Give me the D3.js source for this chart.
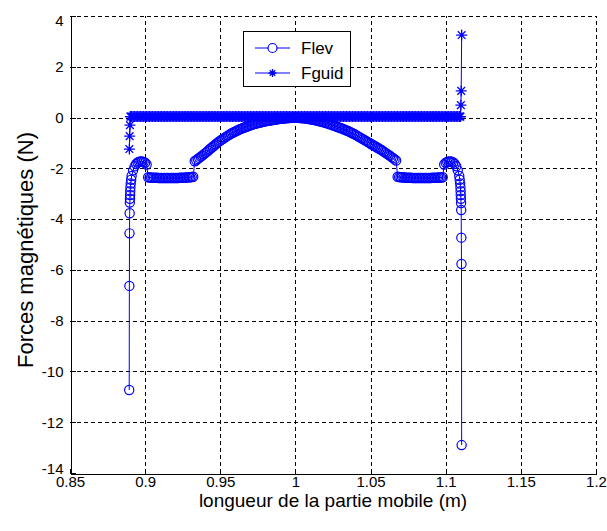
<!DOCTYPE html>
<html>
<head>
<meta charset="utf-8">
<script src="https://cdn.jsdelivr.net/npm/d3@7"></script>
<style>
    body { margin: 0; background: #ffffff; }
    svg { display: block; font-family: "Liberation Sans", Arial, sans-serif; }
</style>
</head>
<body>
<div id="chart"></div>
<script>
/*
    Forces magnetiques vs longueur de la partie mobile (Flev, Fguid)
 */

// tick labels
var xTicks = [0.85, 0.9, 0.95, 1, 1.05, 1.1, 1.15, 1.2];
var yTicks = [4, 2, 0, -2, -4, -6, -8, -10, -12, -14];

// shared x positions of the middle part (m)
var xMid = [
    0.891, 0.892, 0.893, 0.894, 0.895, 0.896, 0.897, 0.898, 0.899, 0.900,
    0.901, 0.902, 0.903, 0.904, 0.905, 0.906, 0.907, 0.908, 0.909, 0.910,
    0.911, 0.912, 0.913, 0.914, 0.915, 0.916, 0.917, 0.918, 0.919, 0.920,
    0.921, 0.922, 0.923, 0.924, 0.925, 0.926, 0.927, 0.928, 0.929, 0.930,
    0.931, 0.932, 0.933, 0.934, 0.935, 0.936, 0.937, 0.938, 0.939, 0.940,
    0.941, 0.942, 0.943, 0.944, 0.945, 0.946, 0.947, 0.948, 0.949, 0.950,
    0.951, 0.952, 0.953, 0.954, 0.955, 0.956, 0.957, 0.958, 0.959, 0.960,
    0.961, 0.962, 0.963, 0.964, 0.965, 0.966, 0.967, 0.968, 0.969, 0.970,
    0.971, 0.972, 0.973, 0.974, 0.975, 0.976, 0.977, 0.978, 0.979, 0.980,
    0.981, 0.982, 0.983, 0.984, 0.985, 0.986, 0.987, 0.988, 0.989, 0.990,
    0.991, 0.992, 0.993, 0.994, 0.995, 0.996, 0.997, 0.998, 0.999, 1.000,
    1.001, 1.002, 1.003, 1.004, 1.005, 1.006, 1.007, 1.008, 1.009, 1.010,
    1.011, 1.012, 1.013, 1.014, 1.015, 1.016, 1.017, 1.018, 1.019, 1.020,
    1.021, 1.022, 1.023, 1.024, 1.025, 1.026, 1.027, 1.028, 1.029, 1.030,
    1.031, 1.032, 1.033, 1.034, 1.035, 1.036, 1.037, 1.038, 1.039, 1.040,
    1.041, 1.042, 1.043, 1.044, 1.045, 1.046, 1.047, 1.048, 1.049, 1.050,
    1.051, 1.052, 1.053, 1.054, 1.055, 1.056, 1.057, 1.058, 1.059, 1.060,
    1.061, 1.062, 1.063, 1.064, 1.065, 1.066, 1.067, 1.068, 1.069, 1.070,
    1.071, 1.072, 1.073, 1.074, 1.075, 1.076, 1.077, 1.078, 1.079, 1.080,
    1.081, 1.082, 1.083, 1.084, 1.085, 1.086, 1.087, 1.088, 1.089, 1.090,
    1.091, 1.092, 1.093, 1.094, 1.095, 1.096, 1.097, 1.098, 1.099, 1.100,
    1.101, 1.102, 1.103, 1.104, 1.105, 1.106, 1.107, 1.108, 1.109
];

// Flev (N) on xMid
var flevMid = [
    -2.30, -2.08, -1.92, -1.83, -1.77, -1.74, -1.73, -1.73, -1.75, -1.78,
    -1.85, -2.35, -2.36, -2.36, -2.37, -2.37, -2.37, -2.37, -2.38, -2.38,
    -2.38, -2.38, -2.38, -2.38, -2.38, -2.38, -2.38, -2.38, -2.38, -2.38,
    -2.38, -2.38, -2.37, -2.37, -2.37, -2.37, -2.36, -2.36, -2.35, -2.35,
    -2.34, -2.33, -1.72, -1.68, -1.63, -1.59, -1.54, -1.50, -1.45, -1.40,
    -1.35, -1.30, -1.25, -1.20, -1.15, -1.10, -1.05, -1.00, -0.95, -0.91,
    -0.87, -0.83, -0.79, -0.75, -0.71, -0.68, -0.64, -0.61, -0.58, -0.55,
    -0.52, -0.49, -0.46, -0.44, -0.41, -0.39, -0.37, -0.35, -0.33, -0.31,
    -0.29, -0.27, -0.25, -0.24, -0.22, -0.21, -0.19, -0.18, -0.16, -0.15,
    -0.14, -0.13, -0.12, -0.11, -0.10, -0.09, -0.08, -0.07, -0.06, -0.05,
    -0.05, -0.04, -0.03, -0.03, -0.02, -0.02, -0.01, -0.01, -0.01, -0.01,
    -0.01, -0.01, -0.02, -0.02, -0.03, -0.03, -0.04, -0.05, -0.06, -0.07,
    -0.08, -0.09, -0.10, -0.12, -0.13, -0.15, -0.16, -0.18, -0.19, -0.21,
    -0.23, -0.25, -0.27, -0.29, -0.31, -0.33, -0.35, -0.37, -0.39, -0.41,
    -0.43, -0.46, -0.48, -0.51, -0.53, -0.56, -0.59, -0.62, -0.65, -0.68,
    -0.71, -0.75, -0.78, -0.82, -0.85, -0.89, -0.92, -0.96, -0.99, -1.03,
    -1.06, -1.10, -1.13, -1.17, -1.20, -1.24, -1.27, -1.31, -1.35, -1.39,
    -1.43, -1.47, -1.51, -1.56, -1.60, -1.65, -1.69, -2.33, -2.34, -2.35,
    -2.35, -2.36, -2.36, -2.37, -2.37, -2.37, -2.37, -2.38, -2.38, -2.38,
    -2.38, -2.38, -2.38, -2.38, -2.38, -2.38, -2.38, -2.38, -2.38, -2.38,
    -2.37, -2.37, -2.37, -2.37, -2.36, -2.36, -2.36, -2.35, -1.85, -1.78,
    -1.75, -1.73, -1.73, -1.74, -1.77, -1.83, -1.92, -2.08, -2.30
];

// Fguid (N) on xMid
var fguidMid = [
    0.04, 0.04, 0.04, 0.04, 0.04, 0.04, 0.04, 0.04, 0.04, 0.04,
    0.04, 0.04, 0.04, 0.04, 0.04, 0.04, 0.04, 0.04, 0.04, 0.04,
    0.04, 0.04, 0.04, 0.04, 0.04, 0.04, 0.04, 0.04, 0.04, 0.04,
    0.04, 0.04, 0.04, 0.04, 0.04, 0.04, 0.04, 0.04, 0.04, 0.04,
    0.04, 0.04, 0.04, 0.04, 0.04, 0.04, 0.04, 0.04, 0.04, 0.04,
    0.04, 0.04, 0.04, 0.04, 0.04, 0.04, 0.04, 0.04, 0.04, 0.04,
    0.04, 0.04, 0.04, 0.04, 0.04, 0.04, 0.04, 0.04, 0.04, 0.04,
    0.04, 0.04, 0.04, 0.04, 0.04, 0.04, 0.04, 0.04, 0.04, 0.04,
    0.04, 0.04, 0.04, 0.04, 0.04, 0.04, 0.04, 0.04, 0.04, 0.04,
    0.04, 0.04, 0.04, 0.04, 0.04, 0.04, 0.04, 0.04, 0.04, 0.04,
    0.04, 0.04, 0.04, 0.04, 0.04, 0.04, 0.04, 0.04, 0.04, 0.04,
    0.04, 0.04, 0.04, 0.04, 0.04, 0.04, 0.04, 0.04, 0.04, 0.04,
    0.04, 0.04, 0.04, 0.04, 0.04, 0.04, 0.04, 0.04, 0.04, 0.04,
    0.04, 0.04, 0.04, 0.04, 0.04, 0.04, 0.04, 0.04, 0.04, 0.04,
    0.04, 0.04, 0.04, 0.04, 0.04, 0.04, 0.04, 0.04, 0.04, 0.04,
    0.04, 0.04, 0.04, 0.04, 0.04, 0.04, 0.04, 0.04, 0.04, 0.04,
    0.04, 0.04, 0.04, 0.04, 0.04, 0.04, 0.04, 0.04, 0.04, 0.04,
    0.04, 0.04, 0.04, 0.04, 0.04, 0.04, 0.04, 0.04, 0.04, 0.04,
    0.04, 0.04, 0.04, 0.04, 0.04, 0.04, 0.04, 0.04, 0.04, 0.04,
    0.04, 0.04, 0.04, 0.04, 0.04, 0.04, 0.04, 0.04, 0.04, 0.04,
    0.04, 0.04, 0.04, 0.04, 0.04, 0.04, 0.04, 0.04, 0.04, 0.04,
    0.04, 0.04, 0.04, 0.04, 0.04, 0.04, 0.04, 0.04, 0.04
];

// end spikes
var flevLeftX = [0.8894, 0.8895, 0.8896, 0.8897, 0.8898, 0.8899, 0.8900, 0.8901, 0.8902, 0.8904, 0.8907];
var flevLeftY = [-10.73, -6.63, -4.56, -3.77, -3.35, -3.20, -3.05, -2.90, -2.75, -2.60, -2.45];
var flevRightX = [1.1093, 1.1096, 1.1098, 1.1099, 1.1100, 1.1101, 1.1102, 1.1103, 1.1104, 1.1105, 1.1106];
var flevRightY = [-2.45, -2.60, -2.75, -2.90, -3.05, -3.20, -3.37, -3.64, -4.73, -5.77, -12.90];

var fguidLeftX = [0.8895, 0.8897, 0.8899, 0.8902, 0.8906];
var fguidLeftY = [-1.24, -0.73, -0.30, 0.04, 0.04];
var fguidRightX = [1.1095, 1.1098, 1.1101, 1.1103, 1.1106];
var fguidRightY = [0.04, 0.04, 0.49, 1.05, 3.25];

var seriesNames = ["Flev", "Fguid"];

function zipPoints(xs, ys) {
    return xs.map(function(x, i) { return {x: x, y: ys[i]}; });
}

class ForcesChart {
    constructor() {
        var self = this;
        self.width = 607;
        self.height = 531;
        self.margin = {top: 16, right: 11, bottom: 58, left: 70};
        self.color = "#0000ff";
        self.init();
    }

    init() {
        var self = this;

        self.svg = d3.select("#chart").append("svg")
            .attr("width", self.width)
            .attr("height", self.height);

        self.xScale = d3.scaleLinear()
            .domain([0.85, 1.2])
            .range([self.margin.left, self.width - self.margin.right]);

        self.yScale = d3.scaleLinear()
            .domain([-14, 4])
            .range([self.height - self.margin.bottom, self.margin.top]);

        self.drawGrid();
        self.drawSeries();
        self.drawAxes();
        self.drawLegend();
    }

    drawGrid() {
        var self = this;
        var g = self.svg.append("g").attr("class", "grid")
            .attr("stroke", "#000")
            .attr("stroke-width", 1)
            .attr("stroke-dasharray", "4,3")
            .attr("shape-rendering", "crispEdges");

        g.selectAll(".vgrid")
            .data(xTicks.slice(1))
            .enter().append("line")
            .attr("x1", function(d) { return Math.round(self.xScale(d)) + 0.5; })
            .attr("x2", function(d) { return Math.round(self.xScale(d)) + 0.5; })
            .attr("y1", self.yScale(-14))
            .attr("y2", self.yScale(4));

        g.selectAll(".hgrid")
            .data(yTicks.slice(0, -1))
            .enter().append("line")
            .attr("y1", function(d) { return Math.round(self.yScale(d)) + 0.5; })
            .attr("y2", function(d) { return Math.round(self.yScale(d)) + 0.5; })
            .attr("x1", self.xScale(0.85))
            .attr("x2", self.xScale(1.2));
    }

    drawSeries() {
        var self = this;

        var flev = zipPoints(flevLeftX, flevLeftY)
            .concat(zipPoints(xMid, flevMid))
            .concat(zipPoints(flevRightX, flevRightY));
        var fguid = zipPoints(fguidLeftX, fguidLeftY)
            .concat(zipPoints(xMid, fguidMid))
            .concat(zipPoints(fguidRightX, fguidRightY));

        var line = d3.line()
            .x(function(d) { return self.xScale(d.x); })
            .y(function(d) { return self.yScale(d.y); });

        // Flev : line + open circles
        self.svg.append("path")
            .datum(flev)
            .attr("fill", "none")
            .attr("stroke", self.color)
            .attr("stroke-width", 1)
            .attr("d", line);

        self.svg.append("g").selectAll("circle")
            .data(flev)
            .enter().append("circle")
            .attr("cx", function(d) { return self.xScale(d.x); })
            .attr("cy", function(d) { return self.yScale(d.y); })
            .attr("r", 4.6)
            .attr("fill", "none")
            .attr("stroke", self.color)
            .attr("stroke-width", 1.2);

        // Fguid : line + stars
        self.svg.append("path")
            .datum(fguid)
            .attr("fill", "none")
            .attr("stroke", self.color)
            .attr("stroke-width", 1)
            .attr("d", line);

        self.svg.append("g").selectAll("path")
            .data(fguid)
            .enter().append("path")
            .attr("transform", function(d) {
                return "translate(" + self.xScale(d.x) + "," + self.yScale(d.y) + ")";
            })
            .attr("d", self.starPath(5.5))
            .attr("fill", "none")
            .attr("stroke", self.color)
            .attr("stroke-width", 1.3);
    }

    starPath(s) {
        var k = s * 0.7;
        return "M" + (-s) + ",0L" + s + ",0M0," + (-s) + "L0," + s +
            "M" + (-k) + "," + (-k) + "L" + k + "," + k +
            "M" + (-k) + "," + k + "L" + k + "," + (-k);
    }

    drawAxes() {
        var self = this;
        var bottom = self.height - self.margin.bottom;

        var xAxis = d3.axisBottom(self.xScale)
            .tickValues(xTicks)
            .tickFormat(function(d) { return String(d); })
            .tickSizeInner(-5)
            .tickSizeOuter(0)
            .tickPadding(3);

        var yAxis = d3.axisLeft(self.yScale)
            .tickValues(yTicks)
            .tickFormat(function(d) { return String(d); })
            .tickSizeInner(-5)
            .tickSizeOuter(0)
            .tickPadding(7);

        var gx = self.svg.append("g")
            .attr("class", "x-axis")
            .attr("transform", "translate(0," + (Math.round(bottom) + 0.5) + ")")
            .call(xAxis);

        var gy = self.svg.append("g")
            .attr("class", "y-axis")
            .attr("transform", "translate(" + (self.margin.left + 0.5) + ",0)")
            .call(yAxis);

        [gx, gy].forEach(function(g) {
            g.selectAll("path, line").attr("stroke", "#000").attr("shape-rendering", "crispEdges");
            g.selectAll("text")
                .attr("fill", "#000")
                .style("font-size", "15px")
                .style("font-family", "'Liberation Sans', Arial, sans-serif");
        });

        // end labels pulled inside like the original
        gy.selectAll(".tick text")
            .attr("dy", function(d) {
                if (d === 4) { return "0.6em"; }
                if (d === -14) { return "0.02em"; }
                return "0.32em";
            });

        // axis titles
        self.svg.append("text")
            .attr("x", (self.xScale(0.85) + self.xScale(1.2)) / 2)
            .attr("y", 507)
            .attr("text-anchor", "middle")
            .style("font-size", "19px")
            .text("longueur de la partie mobile (m)");

        self.svg.append("text")
            .attr("transform", "translate(33,250) rotate(-90)")
            .attr("text-anchor", "middle")
            .style("font-size", "22px")
            .text("Forces magnétiques (N)");
    }

    drawLegend() {
        var self = this;
        var lg = self.svg.append("g").attr("class", "legend");

        lg.append("rect")
            .attr("x", 243.5)
            .attr("y", 31.5)
            .attr("width", 107)
            .attr("height", 55)
            .attr("fill", "#fff")
            .attr("stroke", "#000")
            .attr("stroke-width", 1);

        var rows = [48, 73];
        seriesNames.forEach(function(name, i) {
            var y = rows[i];
            lg.append("line")
                .attr("x1", 255).attr("x2", 290)
                .attr("y1", y).attr("y2", y)
                .attr("stroke", self.color)
                .attr("stroke-width", 1);
            if (i === 0) {
                lg.append("circle")
                    .attr("cx", 272.5).attr("cy", y).attr("r", 4.5)
                    .attr("fill", "#fff")
                    .attr("stroke", self.color)
                    .attr("stroke-width", 1.2);
            } else {
                lg.append("path")
                    .attr("transform", "translate(272.5," + y + ")")
                    .attr("d", self.starPath(4))
                    .attr("fill", "none")
                    .attr("stroke", self.color)
                    .attr("stroke-width", 1.3);
            }
            lg.append("text")
                .attr("x", 301)
                .attr("y", y + 6)
                .style("font-size", "17px")
                .text(name);
        });
    }
}

new ForcesChart();
</script>
</body>
</html>
